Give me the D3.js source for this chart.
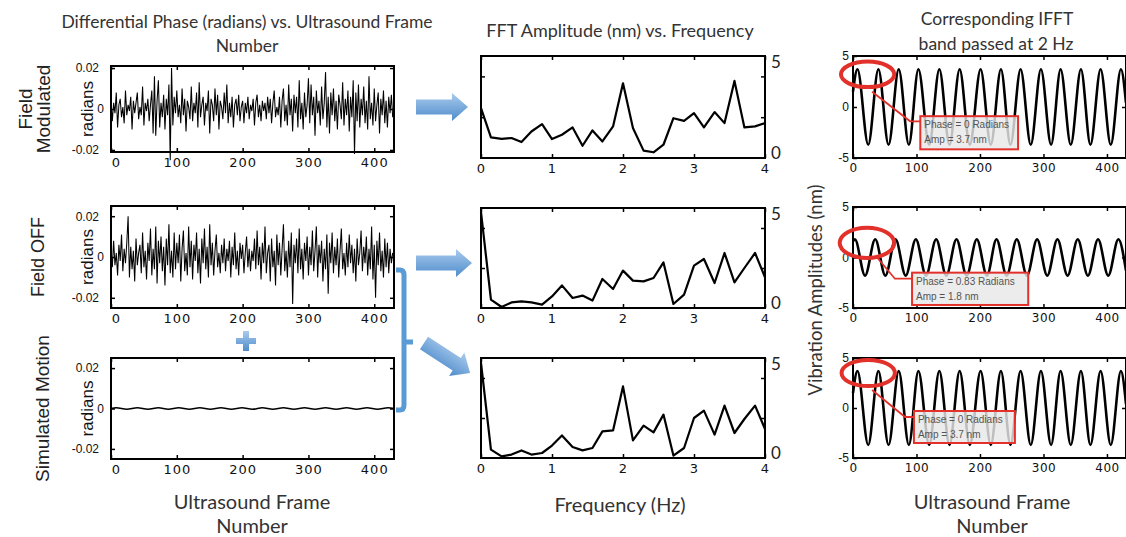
<!DOCTYPE html>
<html>
<head>
<meta charset="utf-8">
<script src="https://cdn.jsdelivr.net/npm/d3@7"></script>
<style>
  body { margin: 0; background: #fff; }
  svg { display: block; }
</style>
</head>
<body>
<script>
// ---------- data ----------
const noiseFrames = d3.range(0, 430, 2);
const frameTicks = [0, 100, 200, 300, 400];
const phaseTicks = [20, -20, 0];            // milliradians
const phaseTickLabels = ['0.02', '-0.02', '0'];

// differential phase, milliradians, every 2nd frame
const fieldModulatedMrad = [
  4,-6,3,-2,8,-9,2,5,-4,1, -7,9,-3,2,-1,6,-10,4,-2,3,
  8,-5,1,-3,11,-8,3,-1,5,-6, 2,9,-12,16,-13,4,14,-9,3,-4,
  7,-10,5,-3,12,-25,20,-8,6,-2, 9,-4,2,-7,10,-3,5,-11,4,1,
  -5,11,-6,3,-2,8,-9,13,-4,2, 6,-8,3,-1,9,-12,5,2,-6,10,
  -3,7,-10,4,1,-5,8,-2,12,-7, 3,-4,6,-9,2,5,-3,7,-6,1,
  4,-7,3,-2,6,-5,2,-1,5,-8, 3,7,-4,2,-6,4,-1,3,-5,6,
  -2,5,-7,3,9,-4,1,-3,6,-9, 4,10,-6,2,-8,12,-3,5,-11,7,
  -2,6,-9,14,-5,3,-10,8,-4,2, 15,-7,12,-3,6,-13,9,-2,4,-8,
  11,-5,3,18,-9,6,-12,8,-3,10, -6,4,-10,7,2,-5,13,-8,5,-3,
  9,-11,6,-4,14,-22,8,-6,12,-9, 5,-3,11,-7,4,-10,16,-5,3,-8,
  10,-6,2,8,-12,5,-3,9,-7,4, -9,6,-2,7,-4
];
const fieldOffMrad = [
  3,-5,8,-4,2,-9,6,-2,11,-7, 4,-3,7,20,-10,5,-6,3,-12,9,
  -4,2,6,-8,12,-5,3,-11,7,-2, 14,-9,4,-6,15,-13,8,-3,10,-7,
  5,-14,9,-4,16,-8,3,-10,12,-6, 7,-3,11,-12,4,13,-7,2,-9,15,
  -5,8,-11,6,-2,12,-8,4,-13,9, -3,14,-6,5,-10,16,-4,7,-9,3,
  11,-5,2,-8,6,-3,9,-7,4,-2, 8,-10,5,-4,12,-6,3,-9,7,-1,
  6,-8,2,10,-5,4,-7,3,-2,9, -6,13,-4,5,-11,7,-3,15,-8,2,
  6,-12,9,-5,3,-14,11,-4,7,-9, 4,16,-7,3,-10,8,-5,12,-23,6,
  -3,9,-8,14,-6,4,-11,7,-2,10, -9,5,-4,13,-7,3,15,-10,6,-3,
  8,-12,4,-6,11,-18,7,-3,12,-8, 5,-4,9,-10,3,14,-6,2,-9,7,
  -5,11,-3,6,-8,4,-12,9,-4,2, 13,-7,5,-3,10,-9,4,-6,15,-11,
  6,-20,8,-4,12,-7,3,-10,9,-5, 7,-8,4,-3,2
];
const simFrames = [0, 8, 24, 40, 56, 72, 87, 103, 119, 135, 151, 167, 183, 199, 215,
  230, 246, 262, 278, 294, 310, 326, 342, 358, 373, 389, 405, 421, 430];
const simMotionMrad = [0, 0.4, -0.4, 0.4, -0.4, 0.4, -0.4, 0.4, -0.4, 0.4, -0.4, 0.4, -0.4, 0.4, -0.4,
  0.4, -0.4, 0.4, -0.4, 0.4, -0.4, 0.4, -0.4, 0.4, -0.4, 0.4, -0.4, 0.4, 0];

// FFT amplitude (nm)
const fftFreq = [0, 0.14, 0.29, 0.43, 0.57, 0.71, 0.86, 1, 1.14, 1.29, 1.43, 1.57, 1.71, 1.86, 2,
  2.14, 2.29, 2.43, 2.57, 2.71, 2.86, 3, 3.14, 3.29, 3.43, 3.57, 3.71, 3.86, 4];
const freqTicks = [0, 1, 2, 3, 4];
const fftModulated = [2.44, 1.01, 0.94, 0.98, 0.78, 1.30, 1.66, 0.93, 1.14, 1.50, 0.60, 1.35, 0.81, 1.55, 3.66,
  1.47, 0.36, 0.28, 0.65, 1.95, 1.82, 2.20, 1.50, 2.25, 1.71, 3.78, 1.50, 1.55, 1.71];
const fftOff = [4.8, 0.42, 0.05, 0.28, 0.33, 0.28, 0.17, 0.58, 1.13, 0.50, 0.62, 0.37, 1.45, 0.95, 1.87,
  1.37, 1.33, 1.50, 2.28, 0.20, 0.67, 2.12, 2.45, 1.25, 2.75, 1.28, 2.00, 2.75, 1.53];
const fftSum = [4.75, 0.42, 0.08, 0.17, 0.38, 0.17, 0.25, 0.62, 1.13, 0.55, 0.38, 0.50, 1.33, 1.38, 3.58,
  0.88, 1.62, 1.28, 2.17, 0.12, 0.50, 2.00, 2.37, 1.17, 2.62, 1.25, 1.95, 2.62, 1.45];

// IFFT band passed at 2 Hz (nm), peaks and troughs
const ifftFramesA = [0, 7, 24, 40, 56, 72, 88, 103, 120, 136, 152, 168, 184, 201, 217,
  233, 248, 264, 280, 296, 312, 327, 343, 359, 374, 390, 406, 422, 430];
const ifftModulated = [1.5, 3.7, -3.7, 3.7, -3.7, 3.7, -3.7, 3.7, -3.7, 3.7, -3.7, 3.7, -3.7, 3.7, -3.7,
  3.7, -3.7, 3.7, -3.7, 3.7, -3.7, 3.7, -3.7, 3.7, -3.7, 3.7, -3.7, 3.7, 0.4];
const ifftFramesB = [0, 3, 19, 35, 51, 67, 83, 99, 115, 131, 147, 163, 179, 195, 211,
  226, 242, 258, 274, 290, 306, 322, 338, 354, 370, 386, 402, 418, 430];
const ifftOff = [1.6, 1.8, -1.8, 1.8, -1.8, 1.8, -1.8, 1.8, -1.8, 1.8, -1.8, 1.8, -1.8, 1.8, -1.8,
  1.8, -1.8, 1.8, -1.8, 1.8, -1.8, 1.8, -1.8, 1.8, -1.8, 1.8, -1.8, 1.8, -1.3];
const ifftSum = ifftModulated;
const ampTicks = [5, 0, -5];

const rowLabels = [['Field', 'Modulated'], ['Field OFF'], ['Simulated Motion']];
const callouts = [
  { lines: ['Phase = 0 Radians', 'Amp = 3.7 nm'], ring: [23, 3.2, 42, 1.25], box: [106, 260, -0.9, -4.15],
    leader: [[30, 1.5], [90, -1.4], [106, -1.4]] },
  { lines: ['Phase = 0.83 Radians', 'Amp = 1.8 nm'], ring: [22, 1.45, 43, 1.5], box: [93, 276, -1.5, -4.7],
    leader: [[38, 0], [66, -2.1], [93, -2.1]] },
  { lines: ['Phase = 0 Radians', 'Amp = 3.7 nm'], ring: [24, 3.5, 42, 1.3], box: [96, 255, -0.3, -3.5],
    leader: [[30, 1.8], [82, -0.9], [96, -0.9]] }
];

// ---------- layout ----------
const width = 1126, height = 537;
const textFont = 'Lato, "Open Sans", sans-serif';
const tickFont = '"Liberation Sans", Arial, sans-serif';
const wideFont = '"DejaVu Sans", Verdana, sans-serif';
const blue = '#5b9bd5';
const red = '#e2312b';
const intFmt = d3.format('d');

const svg = d3.select('body').append('svg').attr('width', width).attr('height', height);
const defs = svg.append('defs');
const grad = defs.append('linearGradient').attr('id', 'arrowGrad').attr('x1', 0).attr('y1', 0).attr('x2', 0).attr('y2', 1);
grad.append('stop').attr('offset', '0%').attr('stop-color', '#a9cbed');
grad.append('stop').attr('offset', '100%').attr('stop-color', '#4f8ccb');
defs.append('clipPath').attr('id', 'rightClip').append('rect').attr('x', 850).attr('y', 0).attr('width', 280).attr('height', height);

const leftX = d3.scaleLinear().domain([0, 430]).range([111, 394]);
const midX = d3.scaleLinear().domain([0, 4]).range([481, 765]);
const rightX = d3.scaleLinear().domain([0, 430]).range([853, 1126]);

const leftY = [
  d3.scaleLinear().domain([-21, 21]).range([152, 66]),
  d3.scaleLinear().domain([-25, 25]).range([308, 206]),
  d3.scaleLinear().domain([-25, 25]).range([459, 358])
];
const midY = [
  d3.scaleLinear().domain([0, 5]).range([158, 56]),
  d3.scaleLinear().domain([0, 5]).range([308, 208]),
  d3.scaleLinear().domain([0, 5]).range([458, 358])
];
const rightY = [
  d3.scaleLinear().domain([-5, 5]).range([158, 56]),
  d3.scaleLinear().domain([-5, 5]).range([308, 207]),
  d3.scaleLinear().domain([-5, 5]).range([458, 358])
];

function box(g, x, y) {
  g.append('rect')
    .attr('x', x.range()[0]).attr('y', y.range()[1])
    .attr('width', x.range()[1] - x.range()[0])
    .attr('height', y.range()[0] - y.range()[1])
    .attr('fill', 'none').attr('stroke', '#000').attr('stroke-width', 2);
}

function inward(axis) {
  return axis.tickSizeInner(-4).tickSizeOuter(0);
}

function styleAxis(sel, font, size) {
  sel.select('.domain').remove();
  sel.selectAll('.tick line').attr('stroke', '#000').attr('stroke-width', 1.5);
  sel.selectAll('.tick text').attr('font-family', font).attr('font-size', size).attr('fill', '#111');
  return sel;
}

function axes(g, x, y, o) {
  const yb = y.range()[0], yt = y.range()[1];
  const xl = x.range()[0], xr = x.range()[1];
  styleAxis(g.append('g').attr('transform', `translate(0,${yb})`)
    .call(inward(d3.axisBottom(x)).tickValues(o.xTicks).tickPadding(o.xPad).tickFormat(intFmt)),
    o.xFont, o.xSize).selectAll('.tick text').attr('letter-spacing', o.xSpacing || 0);
  styleAxis(g.append('g').attr('transform', `translate(0,${yt})`)
    .call(inward(d3.axisTop(x)).tickValues(o.xTicks).tickFormat('')), o.xFont, o.xSize);
  if (o.yLeft) {
    styleAxis(g.append('g').attr('transform', `translate(${xl},0)`)
      .call(inward(d3.axisLeft(y)).tickValues(o.yTicks).tickPadding(o.yPad)
        .tickFormat(o.yLabels ? (d => o.yLabels[o.yTicks.indexOf(d)]) : '')), o.yFont, o.ySize);
  }
  styleAxis(g.append('g').attr('transform', `translate(${xr},0)`)
    .call(inward(d3.axisRight(y)).tickValues(o.yMarks || o.yTicks).tickFormat('')), o.yFont, o.ySize);
}

// ---------- left column: differential phase ----------
const leftSeries = [fieldModulatedMrad, fieldOffMrad];
leftY.forEach((y, i) => {
  const g = svg.append('g');
  const line = d3.line().x(d => leftX(d[0])).y(d => y(d[1]));
  if (i < 2) {
    g.append('path')
      .datum(noiseFrames.map((f, k) => [f, leftSeries[i][k]]))
      .attr('d', line)
      .attr('fill', 'none').attr('stroke', '#000').attr('stroke-width', 1.05);
  } else {
    g.append('path')
      .datum(simFrames.map((f, k) => [f, simMotionMrad[k]]))
      .attr('d', line.curve(d3.curveMonotoneX))
      .attr('fill', 'none').attr('stroke', '#000').attr('stroke-width', 1.6);
  }
  box(g, leftX, y);
  axes(g, leftX, y, {
    xTicks: frameTicks, xPad: 6, xFont: wideFont, xSize: 13, xSpacing: 1,
    yLeft: true, yTicks: phaseTicks, yLabels: phaseTickLabels, yPad: 12, yFont: tickFont, ySize: 12
  });
  g.selectAll('.tick text').filter(d => d === 0 && y.domain()[0] < 0).attr('dx', 5);
  // y axis title
  const cy = y(0);
  g.append('text').attr('transform', `translate(87,${cy}) rotate(-90)`)
    .attr('text-anchor', 'middle').attr('dominant-baseline', 'central')
    .attr('font-family', tickFont).attr('font-size', 17).attr('fill', '#111').text('radians');
  // row label
  const lbl = rowLabels[i];
  const lx = [[25, 43.5], [38], [42.5]][i];
  lbl.forEach((t, j) => {
    g.append('text').attr('transform', `translate(${lx[j]},${cy}) rotate(-90)`)
      .attr('text-anchor', 'middle').attr('dominant-baseline', 'central')
      .attr('font-family', tickFont).attr('font-size', i === 1 ? 18 : 19).attr('fill', '#222').text(t);
  });
});

// ---------- middle column: FFT ----------
const fftSeries = [fftModulated, fftOff, fftSum];
midY.forEach((y, i) => {
  const g = svg.append('g');
  g.append('path')
    .datum(fftFreq.map((f, k) => [f, fftSeries[i][k]]))
    .attr('d', d3.line().x(d => midX(d[0])).y(d => y(d[1])))
    .attr('fill', 'none').attr('stroke', '#000').attr('stroke-width', 2.2).attr('stroke-linejoin', 'round');
  box(g, midX, y);
  axes(g, midX, y, {
    xTicks: freqTicks, xPad: 6, xFont: wideFont, xSize: 13, xSpacing: 1,
    yLeft: true, yTicks: [2, 4], yPad: 4, yFont: textFont, ySize: 16
  });
  const ax = g.append('g').attr('transform', `translate(${midX.range()[1]},0)`)
    .call(d3.axisRight(y).tickValues([5, 0]).tickSize(0).tickPadding(6).tickFormat(intFmt));
  styleAxis(ax, textFont, 17);
  ax.selectAll('.tick text').attr('y', d => d === 5 ? 6 : -5).attr('fill', '#222');
});

// ---------- right column: IFFT ----------
const ifftSeries = [[ifftFramesA, ifftModulated], [ifftFramesB, ifftOff], [ifftFramesA, ifftSum]];
rightY.forEach((y, i) => {
  const g = svg.append('g').attr('clip-path', 'url(#rightClip)');
  const [fr, val] = ifftSeries[i];
  g.append('path')
    .datum(fr.map((f, k) => [f, val[k]]))
    .attr('d', d3.line().x(d => rightX(d[0])).y(d => y(d[1])).curve(d3.curveMonotoneX))
    .attr('fill', 'none').attr('stroke', '#000').attr('stroke-width', 2.6);
  box(g, rightX, y);
  const ga = svg.append('g');
  axes(ga, rightX, y, {
    xTicks: frameTicks, xPad: 5, xFont: wideFont, xSize: 12, xSpacing: 0.5,
    yLeft: true, yTicks: ampTicks, yLabels: ['5', '0', '-5'], yPad: 4, yFont: tickFont, ySize: 12,
    yMarks: [0]
  });

  // callout
  const c = callouts[i];
  const ca = svg.append('g');
  ca.append('polyline')
    .attr('points', c.leader.map(p => [rightX(p[0]), y(p[1])].join(',')).join(' '))
    .attr('fill', 'none').attr('stroke', red).attr('stroke-width', 1.8);
  ca.append('ellipse')
    .attr('cx', rightX(c.ring[0])).attr('cy', y(c.ring[1]))
    .attr('rx', rightX(c.ring[2]) - rightX(0)).attr('ry', y(0) - y(c.ring[3]))
    .attr('fill', 'none').attr('stroke', red).attr('stroke-width', 4);
  const bx0 = rightX(c.box[0]), bx1 = rightX(c.box[1]);
  const by0 = y(c.box[2]), by1 = y(c.box[3]);
  ca.append('rect').attr('x', bx0).attr('y', by0).attr('width', bx1 - bx0).attr('height', by1 - by0)
    .attr('fill', 'rgba(232,232,232,0.82)').attr('stroke', red).attr('stroke-width', 2);
  c.lines.forEach((t, j) => {
    ca.append('text').attr('x', bx0 + 4).attr('y', by0 + 12 + j * 15)
      .attr('font-family', tickFont).attr('font-size', 10).attr('fill', '#555').text(t);
  });
});

// ---------- titles and axis labels ----------
function label(x, y, t, size, rot) {
  svg.append('text')
    .attr('transform', `translate(${x},${y})` + (rot ? ' rotate(-90)' : ''))
    .attr('text-anchor', 'middle').attr('dominant-baseline', 'central')
    .attr('font-family', textFont).attr('font-size', size).attr('fill', '#333').text(t);
}
label(247, 21, 'Differential Phase (radians) vs. Ultrasound Frame', 17.5);
label(247, 45, 'Number', 17.5);
label(620, 30, 'FFT Amplitude (nm) vs. Frequency', 18);
label(997, 18, 'Corresponding IFFT', 17.5);
label(996, 43, 'band passed at 2 Hz', 17.5);
label(252, 501, 'Ultrasound Frame', 20);
label(252, 525, 'Number', 20);
label(620, 504, 'Frequency (Hz)', 20);
label(992, 501, 'Ultrasound Frame', 20);
label(992, 525, 'Number', 20);
label(815, 290, 'Vibration Amplitudes (nm)', 18.5, true);

// ---------- blue arrows, bracket, plus ----------
function arrowPath(len) {
  const h = 16;
  return `M0,-7.5 L${len - h},-7.5 L${len - h},-14 L${len},0 L${len - h},14 L${len - h},7.5 L0,7.5 Z`;
}
svg.append('path').attr('transform', 'translate(416,107)').attr('d', arrowPath(52)).attr('fill', 'url(#arrowGrad)');
svg.append('path').attr('transform', 'translate(416,263)').attr('d', arrowPath(56)).attr('fill', 'url(#arrowGrad)');
svg.append('path').attr('transform', 'translate(424,343) rotate(33)').attr('d', arrowPath(55)).attr('fill', 'url(#arrowGrad)');

svg.append('path')
  .attr('d', 'M396,270 L400,270 Q404,270 404,275 L404,405 Q404,410 400,410 L396,410 M404,342 L413,342')
  .attr('fill', 'none').attr('stroke', blue).attr('stroke-width', 5);

svg.append('path')
  .attr('d', 'M243,331 h6 v7 h7 v6 h-7 v7 h-6 v-7 h-7 v-6 h7 Z')
  .attr('fill', 'url(#arrowGrad)');
</script>
</body>
</html>
